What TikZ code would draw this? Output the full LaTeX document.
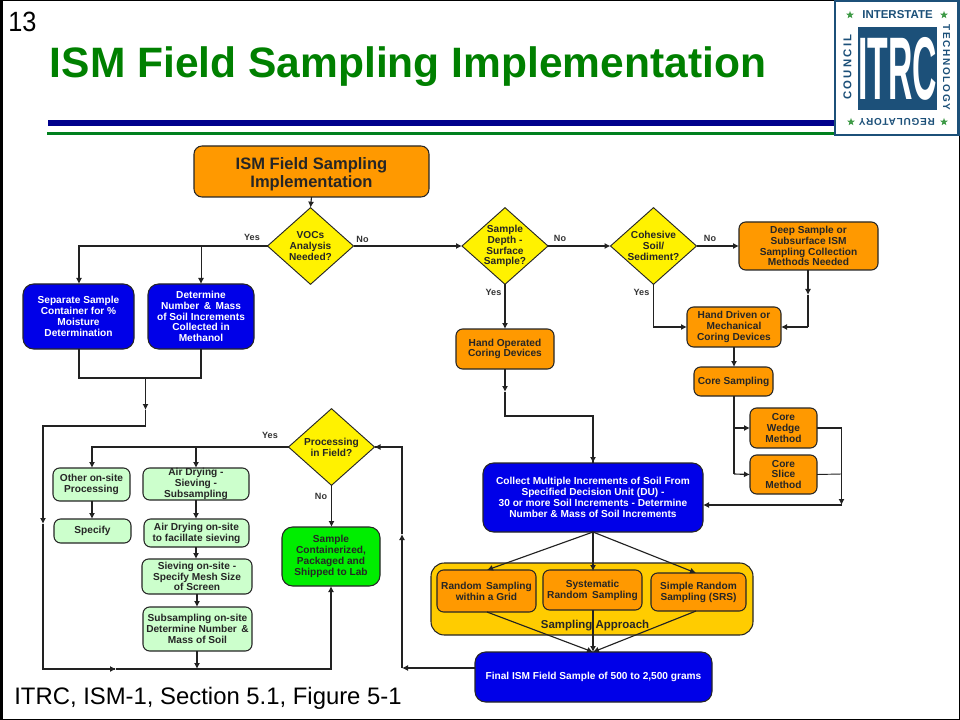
\documentclass[tikz,border=0pt]{standalone}
\usepackage{fontspec}
\setmainfont{Liberation Sans}
\usetikzlibrary{shapes.geometric,arrows.meta,calc}
\definecolor{orng}{HTML}{FF9900}
\definecolor{bxblue}{HTML}{0000E8}
\definecolor{ltgreen}{HTML}{CCFFCC}
\definecolor{brgreen}{HTML}{00EE00}
\definecolor{panel}{HTML}{FFCC00}
\definecolor{ttlgreen}{HTML}{008000}
\definecolor{rulegreen}{HTML}{00801E}
\definecolor{ruleblue}{HTML}{00008C}
\definecolor{logoblue}{HTML}{1C5079}
\definecolor{logostar}{HTML}{3E9A46}
\definecolor{linecol}{HTML}{222222}
\newfontfamily\lgA[LetterSpace=20]{Liberation Sans}
\newfontfamily\lgB[LetterSpace=17]{Liberation Sans}
\newfontfamily\lgC[LetterSpace=8]{Liberation Sans}
\tikzset{
  x=0.75pt,y=-0.75pt,
  bx/.style={draw=black!85,line width=0.8pt,rounded corners=5pt,inner sep=0pt,outer sep=0pt,align=center,font=\bfseries\fontsize{7.6}{8.1}\selectfont},
  orbox/.style={bx,fill=orng,text=black!85},
  blbox/.style={bx,fill=bxblue,text=white,rounded corners=8pt},
  ltbox/.style={bx,fill=ltgreen,text=black!85},
  dmd/.style={diamond,draw=black!85,line width=0.7pt,fill=yellow,inner sep=-9pt,outer sep=0pt,align=center,font=\bfseries\fontsize{7.6}{8.1}\selectfont,text=black!85,minimum width=64.5pt,minimum height=57.5pt},
  wire/.style={draw=linecol,line width=0.85pt},
  arr/.style={wire,-{Latex[length=4.5pt,width=4.5pt]}},
  lbl/.style={font=\bfseries\fontsize{6.8}{8}\selectfont,text=black!80,inner sep=0pt},
}
\newcommand{\bxn}[7]{%
  \pgfmathsetmacro{\bxw}{(#4-#2)*0.75}\pgfmathsetmacro{\bxh}{(#5-#3)*0.75}%
  \node[#6,minimum width=\bxw pt,minimum height=\bxh pt] (#1) at ({(#2+#4)/2},{(#3+#5)/2}) {#7};}
\begin{document}
\begin{tikzpicture}
\useasboundingbox (0,0) rectangle (960,720);
\fill[white] (0,0) rectangle (960,720);
% frame
\fill[black] (0,0) rectangle (2.5,720);
\fill[black] (0,0) rectangle (960,1.5);
\fill[black] (0,718.5) rectangle (960,720);
\fill[black] (959,0) rectangle (960,720);
% rules
\fill[ruleblue] (48,120) rectangle (835,126);
\fill[rulegreen] (47,132) rectangle (835,135);
% heading
\node[anchor=center,inner sep=0pt,font=\fontsize{19}{20}\selectfont,yscale=1.1] (pagenum) at (22.5,21.5) {13};
\node[anchor=base,inner sep=0pt,text=ttlgreen,font=\bfseries\fontsize{31.9}{34}\selectfont] (title) at (408,77.5) {ISM Field Sampling Implementation};
\node[anchor=center,inner sep=0pt,font=\fontsize{17.9}{20}\selectfont] (cite) at (208,698) {ITRC, ISM-1, Section 5.1, Figure 5-1};
% logo
\draw[logoblue,line width=2pt,fill=white] (835,1) rectangle (958.5,135);
\fill[logoblue] (858,27) rectangle (937,110);
\node[inner sep=0pt,text=white,font=\bfseries\fontsize{46}{46}\selectfont,xscale=0.55,yscale=1.45] (logoitrc) at (897.5,68.5) {ITRC};
\node[inner sep=0pt,text=logoblue,font=\bfseries\fontsize{8.6}{9}\selectfont] (logotop) at (897.5,14.5) {INTERSTATE};
\node[inner sep=0pt,text=logoblue,font=\lgA\bfseries\fontsize{8.5}{9}\selectfont,rotate=90] (logoleft) at (847.5,67) {COUNCIL};
\node[inner sep=0pt,text=logoblue,font=\lgB\bfseries\fontsize{7.5}{9}\selectfont,rotate=-90] (logoright) at (946.5,67.5) {TECHNOLOGY};
\node[inner sep=0pt,text=logoblue,font=\lgC\bfseries\fontsize{7.5}{9}\selectfont,rotate=180] (logobot) at (897,122) {REGULATORY};
\foreach \sx/\sy/\sn in {850/15/a,944/15/b,851/122/c,944/122/d}
  \node[star,star points=5,star point ratio=2.4,fill=logostar,inner sep=0pt,minimum size=6pt] (logostar\sn) at (\sx,\sy) {};
% panel
\bxn{panel}{431}{563}{753}{635}{bx,fill=panel,rounded corners=10pt}{}
\node[inner sep=0pt,font=\bfseries\fontsize{8.6}{10}\selectfont,text=black!85] (panellabel) at (595,625.5) {Sampling Approach};
% boxes
\bxn{start}{194}{146}{429}{197}{orbox,font=\bfseries\fontsize{12.4}{13.8}\selectfont,rounded corners=6pt}{\rule{0pt}{13pt}ISM Field Sampling\\Implementation}
\node[dmd] (voc) at (310.5,246) {VOCs\\Analysis\\Needed?};
\bxn{sep}{23}{284}{134}{349}{blbox}{Separate Sample\\Container for \%\\Moisture\\Determination}
\bxn{det}{148}{284}{254}{349}{blbox}{Determine\\Number \,\&\, Mass\\of Soil Increments\\Collected in\\Methanol}
\node[dmd] (depth) at (505,246) {Sample\\Depth -\\Surface\\Sample?};
\node[dmd] (coh) at (653.5,246) {Cohesive\\Soil/\\Sediment?};
\bxn{deep}{739}{222}{878}{270}{orbox}{Deep Sample or\\Subsurface ISM\\Sampling Collection\\Methods Needed}
\bxn{handop}{456}{329}{554}{369}{orbox}{Hand Operated\\Coring Devices}
\bxn{handdr}{687}{307}{781}{347}{orbox}{Hand Driven or\\Mechanical\\Coring Devices}
\bxn{coresamp}{694}{367}{773}{396}{orbox}{Core Sampling}
\bxn{wedge}{750}{408}{817}{448}{orbox}{Core\\Wedge\\Method}
\bxn{slice}{750}{455}{817}{494}{orbox}{Core\\Slice\\Method}
\bxn{collect}{483}{463}{703}{532}{blbox}{Collect Multiple Increments of Soil From\\Specified Decision Unit (DU) -\\30 or more Soil Increments - Determine\\Number \& Mass of Soil Increments}
\bxn{rand}{437}{570}{536}{612}{orbox}{Random\, Sampling\\within a Grid}
\bxn{syst}{543}{570}{642}{610}{orbox}{Systematic\\Random\, Sampling}
\bxn{srs}{651}{573}{746}{611}{orbox}{Simple Random\\Sampling (SRS)}
\bxn{final}{475}{652}{712}{702}{blbox}{Final ISM Field Sample of 500 to 2,500 grams}
\node[dmd] (proc) at (331.5,447) {Processing\\in Field?};
\bxn{other}{53}{468}{130}{501}{ltbox}{Other on-site\\Processing}
\bxn{spec}{54}{519}{131}{543}{ltbox}{Specify}
\bxn{air}{143}{468}{249}{500}{ltbox}{Air Drying -\\Sieving -\\Subsampling}
\bxn{airsite}{144}{519}{249}{547}{ltbox}{Air Drying on-site\\to facillate sieving}
\bxn{siev}{142}{559}{252}{594}{ltbox}{Sieving on-site -\\Specify Mesh Size\\of Screen}
\bxn{subs}{143}{607}{252}{651}{ltbox}{Subsampling on-site\\Determine Number \,\&\\Mass of Soil}
\bxn{ship}{282}{527}{380}{586}{bx,fill=brgreen,text=black!85,rounded corners=8pt}{Sample\\Containerized,\\Packaged and\\Shipped to Lab}
% labels
\node[lbl] (yes1) at (252,237) {Yes};
\node[lbl] (no1) at (362.5,239) {No};
\node[lbl] (no2) at (560,238.5) {No};
\node[lbl] (no3) at (710,238.5) {No};
\node[lbl] (yes2) at (493.5,292) {Yes};
\node[lbl] (yes3) at (641.5,292) {Yes};
\node[lbl] (yes4) at (270,435) {Yes};
\node[lbl] (no4) at (321,496) {No};
% connectors
\draw[arr] (start.south) -- (voc.north);
\draw[arr] (voc.west) -| (sep.north -| 79,0);
\draw[arr,line width=0.7pt] (201,246) -- (det.north);
\draw[arr] (voc.east) -- (depth.west);
\draw[arr] (depth.east) -- (coh.west);
\draw[arr] (coh.east) -- (deep.west);
\draw[arr] (depth.south) -- (handop.north -| depth.south);
\coordinate (hm) at (505,392);
\coordinate (ha) at (505,416);
\draw[arr] (505,369) -- (hm);
\draw[wire] (hm) -- (ha) -| (593,463);
\draw[arr] (593,416) -- (593,463);
\draw[arr] (coh.south) |- (handdr.west);
\coordinate (dm) at (808,295);
\draw[arr] (808,270) -- (dm);
\draw[wire] (dm) -- (808,327);
\draw[arr] (808,327) -- (handdr.east);
\draw[arr] (734,347) -- (734,367);
\draw[wire] (734,396) -- (734,428);
\draw[arr] (734,428) -- (wedge.west);
\draw[wire] (734,428) -- (734,474);
\draw[arr] (734,474) -- (slice.west);
\draw[wire] (wedge.east) -| (841.5,503);
\draw[wire,line width=0.7pt] (slice.east) -- (841.5,474);
\draw[arr] (841.5,490) -- (841.5,505);
\draw[arr] (841.5,505) -- (703,505);
\coordinate (cb) at (593,532);
\draw[arr] (cb) -- (487,570);
\draw[arr] (cb) -- (593,571);
\draw[arr] (cb) -- (696,573);
\coordinate (ft) at (593,652);
\draw[arr] (487,612) -- (ft);
\draw[arr] (593,610) -- (ft);
\draw[arr] (696,611) -- (ft);
% merge from blue boxes
\draw[wire] (79,349) |- (201,378) -- (201,349);
\coordinate (mm) at (145.5,410);
\draw[arr] (145.5,378) -- (mm);
\draw[wire] (mm) -- (145.5,426) -| (43,522);
\draw[arr] (43,500) -- (43,524);
\draw[wire] (43,524) |- (115,669);
\draw[arr] (100,669) -- (116,669);
\draw[wire] (116,669) -| (331,600);
\draw[arr] (331,669) -- (ship.south -| 331,0);
\draw[arr] (197,651) -- (197,669);
% processing
\draw[arr] (proc.west) -| (92,468);
\draw[arr] (196,447) -- (196,468);
\draw[arr] (92,501) -- (92,519);
\draw[arr] (196,500) -- (196,519);
\draw[arr] (196,547) -- (196,559);
\draw[arr] (197,594) -- (197,607);
\draw[arr] (proc.south) -- (ship.north -| proc.south);
% return
\draw[arr] (final.west |- 0,668) -- (402,668);
\coordinate (rm) at (402,534);
\draw[arr] (402,668) -- (rm);
\draw[wire] (rm) |- (proc.east);
\draw[arr] (402,447) -- (proc.east);
\end{tikzpicture}
\end{document}
